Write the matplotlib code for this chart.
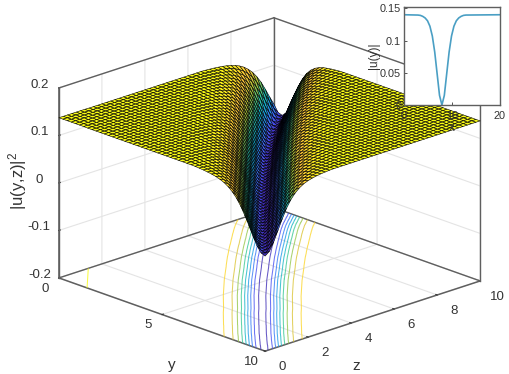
import numpy as np
import matplotlib
matplotlib.use('Agg')
import matplotlib.pyplot as plt
from matplotlib.colors import LinearSegmentedColormap, Normalize

plt.rcParams['font.family'] = ['Liberation Sans', 'DejaVu Sans']
plt.rcParams['mathtext.default'] = 'regular'

# trench depth against distance from its centre line, in steps of 0.05
profile = [0.0000, 0.0003, 0.0013, 0.0030, 0.0053, 0.0082, 0.0117, 0.0156, 0.0200, 0.0247,
	0.0292, 0.0345, 0.0398, 0.0450, 0.0503, 0.0555, 0.0604, 0.0654, 0.0702, 0.0750,
	0.0795, 0.0837, 0.0878, 0.0917, 0.0952, 0.0986, 0.1018, 0.1047, 0.1074, 0.1099,
	0.1122, 0.1144, 0.1164, 0.1182, 0.1199, 0.1214, 0.1228, 0.1241, 0.1253, 0.1263,
	0.1273, 0.1281, 0.1290, 0.1297, 0.1304, 0.1310, 0.1316, 0.1321, 0.1326, 0.1330,
	0.1333, 0.1337, 0.1340, 0.1343, 0.1346, 0.1349, 0.1352, 0.1354, 0.1356, 0.1358,
	0.1360, 0.1362, 0.1364, 0.1366, 0.1367, 0.1370]
# how far the centre line sits from the diagonal (in 0.05 steps), from the back corner to the front one
bow = [-8, -7, -6, -5, -3, -2, -1, 0, 0, 1, 1, 2, 2, 3, 3, 4, 4, 4, 5, 5,
	5, 5, 5, 6, 6, 6, 6, 6, 6, 6, 6, 6, 6, 5, 5, 5, 5, 5, 5, 4,
	4, 4, 4, 3, 3, 3, 2, 2, 1, 1, 0]
corner_value = 0.1373
corner_reach = 7

cells = 50
levels = [0.004, 0.019, 0.034, 0.049, 0.064, 0.079, 0.094, 0.109, 0.124, 0.1372]

inset_x = [0, 2.9, 3.4, 3.9, 4.4, 4.9, 5.4, 5.9, 6.4, 6.9, 7.4, 7.9, 8.4, 8.9, 9.4, 9.9, 10.4, 10.9, 11.4, 11.9, 12.4, 12.9, 20]
inset_u = [0.14, 0.1395, 0.139, 0.1375, 0.135, 0.1306, 0.1222, 0.107, 0.0822, 0.0486, 0.0149, 0,
	0.0149, 0.0486, 0.0822, 0.107, 0.1222, 0.1306, 0.135, 0.1375, 0.139, 0.1395, 0.14]

parula_colors = [(0.2422, 0.1504, 0.6603), (0.2810, 0.3228, 0.9579), (0.1786, 0.5289, 0.9682),
	(0.0689, 0.6948, 0.8394), (0.2161, 0.7843, 0.5923), (0.6720, 0.7793, 0.2227),
	(0.9970, 0.7659, 0.2199), (0.9769, 0.9839, 0.0805)]
parula = LinearSegmentedColormap.from_list('parula', parula_colors)
norm = Normalize(0, 0.137)

def build_surface(f):
	# table lookup on a grid of cells * f cells, f = 1 for the mesh, f = 4 for the contours
	n = cells * f + 1
	W = np.zeros((n, n))
	for i in range(n):
		for j in range(n):
			# average over nearby bow entries so the steps in the table do not show
			total = 0
			for du in range(-4 * f, 4 * f + 1, f):
				b = min(max((i - j + cells * f + du) // (2 * f), 0), cells)
				k = abs((i + j - cells * f) * (4 // f) + bow[b])
				total += profile[min(k, len(profile) - 1)]
			W[i, j] = total / 9
			if i + j < corner_reach * f:
				W[i, j] = corner_value
	y = np.linspace(0, 10, n)
	Y, Z = np.meshgrid(y, y, indexing='ij')
	return Y, Z, W

fig = plt.figure(figsize=(5.1, 3.74), dpi=100)
ax = fig.add_axes([0.0186, -0.0067, 1, 1], projection='3d', computed_zorder=False)
ax.set_proj_type('ortho')
ax.view_init(elev=19.9, azim=-43.8)
ax.set_box_aspect((1, 1, 0.678), zoom=1.213)
ax.patch.set_alpha(0)

ax.set_xlim(0, 10)
ax.set_ylim(0, 10)
ax.set_zlim(-0.2, 0.2)
ax.set_xticks([0, 5, 10])
ax.set_yticks([0, 2, 4, 6, 8, 10])
ax.set_zticks([-0.2, -0.1, 0, 0.1, 0.2])
ax.set_zticklabels(['-0.2', '-0.1', '0', '0.1', '0.2'])
ax.zaxis.set_ticks_position('lower')
ax.zaxis.set_label_position('lower')

for axis in [ax.xaxis, ax.yaxis, ax.zaxis]:
	axis.set_pane_color((1, 1, 1, 0))
	axis.pane.set_edgecolor((1, 1, 1, 0))
	axis.line.set_color('#5f5f5f')
	axis.line.set_linewidth(1.1)
	axis._axinfo['grid']['color'] = '#e4e4e4'
	axis._axinfo['grid']['linewidth'] = 0.8
	axis._axinfo['tick']['color'] = '#5f5f5f'
	axis._axinfo['tick']['linewidth'] = {True: 0.8, False: 0.5}
	axis._axinfo['tick']['inward_factor'] = 0.0
	axis._axinfo['tick']['outward_factor'] = 0.08
ax.tick_params(labelsize=9.5, colors='#333333', pad=0)
ax.tick_params(axis='x', pad=1)
ax.tick_params(axis='y', pad=3.5)
ax.tick_params(axis='z', pad=-1.5)
for lab in ax.xaxis.get_ticklabels():
	lab.set_va('bottom')
for lab in ax.yaxis.get_ticklabels():
	lab.set_va('bottom')
for lab in ax.zaxis.get_ticklabels():
	lab.set_va('baseline')

# edges of the box
box_edges = [((0, 0, -0.2), (0, 0, 0.2)), ((0, 10, -0.2), (0, 10, 0.2)), ((10, 10, -0.2), (10, 10, 0.2)),
	((0, 0, 0.2), (0, 10, 0.2)), ((0, 10, 0.2), (10, 10, 0.2)),
	((0, 0, -0.2), (0, 10, -0.2)), ((0, 10, -0.2), (10, 10, -0.2))]
for p, q in box_edges:
	ax.plot([p[0], q[0]], [p[1], q[1]], [p[2], q[2]], color='#5f5f5f', lw=1.0, zorder=1, clip_on=False)

Y, Z, W = build_surface(4)
floor = ax.contour(Y, Z, W, levels=levels, zdir='z', offset=-0.2, cmap=parula, norm=norm,
	linewidths=0.75, alpha=0.8, zorder=2)
floor.set_clip_on(False)

Y, Z, W = build_surface(1)
surf = ax.plot_surface(Y, Z, W, rstride=1, cstride=1, facecolors=parula(norm(W)), edgecolor='k', linewidth=0.4,
	shade=False, antialiased=True, zorder=3)
surf.set_clip_on(False)

fig.text(172 / 510, 1 - 365 / 374, 'y', fontsize=11, color='#333333', ha='center', va='center')
fig.text(356 / 510, 1 - 366 / 374, 'z', fontsize=11, color='#333333', ha='center', va='center')
fig.text(18 / 510, 1 - 181 / 374, '|u(y,z)|$^2$', fontsize=12, color='#333333', rotation=90, ha='center', va='center')

inset = fig.add_axes([404 / 510, 1 - 105 / 374, 96 / 510, 98 / 374], zorder=5)
inset.plot(inset_x, inset_u, color='#4a9fc4', lw=1.2)
inset.set_xlim(0, 20)
inset.set_ylim(0, 0.152)
inset.set_xticks([0, 10, 20])
inset.set_yticks([0, 0.05, 0.1, 0.15])
inset.set_yticklabels(['0', '0.05', '0.1', '0.15'])
inset.tick_params(labelsize=7.8, length=2, width=0.7, color='#555555', labelcolor='#333333', pad=2, direction='in')
inset.tick_params(axis='x', pad=4)
for s in inset.spines.values():
	s.set_color('#5f5f5f')
	s.set_linewidth(1.0)
inset.set_xlabel('x', fontsize=8.5, color='#333333', labelpad=1)
inset.set_ylabel('|u(y)|', fontsize=8.5, color='#333333', labelpad=0)

fig.savefig('out.png', dpi=100)
